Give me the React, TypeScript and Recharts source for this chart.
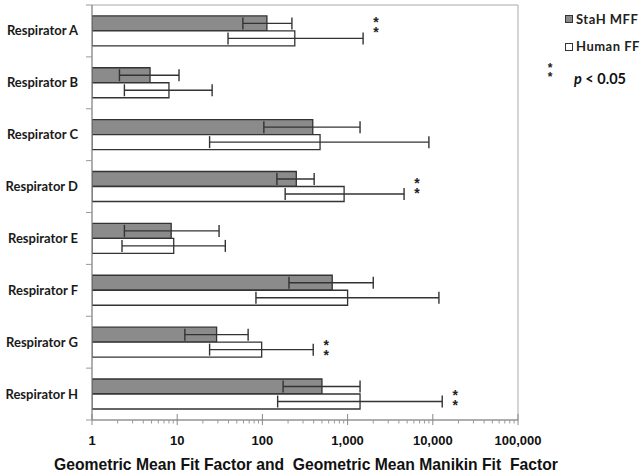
import React from 'react';
import { BarChart, Bar, XAxis, YAxis, ErrorBar, ReferenceArea, ReferenceDot } from 'recharts';

const respirators = ['Respirator A', 'Respirator B', 'Respirator C', 'Respirator D', 'Respirator E', 'Respirator F', 'Respirator G', 'Respirator H'];
const stahMff = [113, 4.8, 390, 250, 8.5, 660, 29, 500];
const stahLow = [59, 2.1, 104, 148, 2.4, 205, 12.3, 175];
const stahHigh = [222, 10.5, 1400, 405, 31, 2000, 68, 1400];
const humanFf = [240, 8.0, 475, 910, 9.1, 1000, 98, 1400];
const humanLow = [39.5, 2.4, 24, 185, 2.25, 84, 24, 151];
const humanHigh = [1520, 25.7, 9000, 4600, 36.7, 11800, 395, 12900];
const significant = [true, false, false, true, false, false, true, true];
const majorTicks = [1, 10, 100, 1000, 10000, 100000];
const minorSteps = [2, 3, 4, 5, 6, 7, 8, 9];

// styling: vertical offset (px) of the asterisk pair relative to band centre
const asteriskShift = [-9, 0, 0, -4, 0, 0, 3, 1];

const data = respirators.map((name, i) => ({
  name,
  stah: stahMff[i],
  stahErr: [stahMff[i] - stahLow[i], stahHigh[i] - stahMff[i]],
  human: humanFf[i],
  humanErr: [humanFf[i] - humanLow[i], humanHigh[i] - humanFf[i]],
}));

const allTicks: number[] = [];
majorTicks.forEach((t, k) => {
  allTicks.push(t);
  if (k < majorTicks.length - 1) minorSteps.forEach((s) => allTicks.push(t * s));
});

const W = 641;
const H = 476;
const PLOT_TOP = 5;
const PLOT_BOTTOM = 420;
const BAND = (PLOT_BOTTOM - PLOT_TOP) / respirators.length;

const XTick = (props: any) => {
  const { x, y, payload } = props;
  const v = payload.value;
  const major = Math.abs(Math.log10(v) - Math.round(Math.log10(v))) < 1e-9;
  return (
    <g>
      {major ? (
        <line x1={x} x2={x} y1={y - 6} y2={y + 5} stroke="#888" strokeWidth={1} />
      ) : (
        <line x1={x} x2={x} y1={y} y2={y + 3.5} stroke="#999" strokeWidth={1} />
      )}
      {major && (
        <text x={x} y={y + 25} textAnchor="middle" fontFamily="'Liberation Sans', Arial, sans-serif" fontWeight="bold" fontSize={13} fill="#111">
          {v.toLocaleString('en-US')}
        </text>
      )}
    </g>
  );
};

const YTick = (props: any) => {
  const { x, y, payload, index } = props;
  return (
    <g>
      {index === 0 && <line x1={x - 6} x2={x} y1={y - BAND / 2} y2={y - BAND / 2} stroke="#999" />}
      <line x1={x - 6} x2={x} y1={y + BAND / 2} y2={y + BAND / 2} stroke="#999" />
      <text x={x - 14} y={y} dy={4.5} textAnchor="end" fontFamily="Lato, 'Open Sans', sans-serif" fontWeight="bold" fontSize={13} fill="#1a1a1a">
        {payload.value}
      </text>
    </g>
  );
};

const STACKED = '*\n*';

const AsteriskPair = (shift: number) => (p: any) => {
  const cx = p.cx + 13;
  const cy = p.cy + shift;
  return (
    <foreignObject x={cx - 8} y={cy - 5} width={16} height={24}>
      <div
        style={{
          width: 16,
          textAlign: 'center',
          whiteSpace: 'pre',
          fontFamily: "'Liberation Sans', Arial, sans-serif",
          fontWeight: 'bold',
          fontSize: 14,
          lineHeight: '10px',
          color: '#222',
        }}
      >
        {STACKED}
      </div>
    </foreignObject>
  );
};

const legendText: React.CSSProperties = {
  position: 'absolute',
  fontFamily: 'Lato, sans-serif',
  fontWeight: 'bold',
  fontSize: 13,
  letterSpacing: 0.5,
  color: '#222',
  lineHeight: '16px',
  whiteSpace: 'pre',
};

export default function App() {
  return (
    <div style={{ position: 'absolute', left: 0, top: 0, width: W, height: H, background: '#fff' }}>
      <BarChart
        width={W}
        height={H}
        data={data}
        layout="vertical"
        margin={{ top: PLOT_TOP, right: W - 518, bottom: H - PLOT_BOTTOM - 30, left: 0 }}
        barCategoryGap="21%"
        barGap={0}
      >
        <ReferenceArea x1={1} x2={100000} fill="none" stroke="#aaa" strokeWidth={1} ifOverflow="visible" />
        <XAxis
          type="number"
          dataKey="stah"
          scale="log"
          domain={[1, 100000]}
          ticks={allTicks}
          interval={0}
          allowDataOverflow
          tick={<XTick />}
          tickLine={false}
          tickSize={0}
          tickMargin={0}
          height={30}
          axisLine={{ stroke: '#888' }}
        />
        <YAxis
          type="category"
          dataKey="name"
          width={92}
          tick={<YTick />}
          tickLine={false}
          tickSize={0}
          tickMargin={0}
          interval={0}
          axisLine={{ stroke: '#888' }}
        />
        <Bar dataKey="stah" fill="#8b8b8b" stroke="#333" strokeWidth={1.3} isAnimationActive={false}>
          <ErrorBar dataKey="stahErr" direction="x" width={6} stroke="#333" strokeWidth={1.4} />
        </Bar>
        <Bar dataKey="human" fill="#ffffff" stroke="#333" strokeWidth={1.3} isAnimationActive={false}>
          <ErrorBar dataKey="humanErr" direction="x" width={6} stroke="#333" strokeWidth={1.4} />
        </Bar>
        {respirators.map((name, i) =>
          significant[i] ? (
            <ReferenceDot key={name} x={humanHigh[i]} y={name} r={0} ifOverflow="visible" shape={AsteriskPair(asteriskShift[i])} />
          ) : null
        )}
      </BarChart>

      {/* legend */}
      <div style={{ position: 'absolute', left: 565, top: 15, width: 8, height: 8, background: '#8b8b8b', border: '1px solid #333', boxSizing: 'border-box' }} />
      <div style={{ ...legendText, left: 576, top: 11 }}>StaH MFF</div>
      <div style={{ position: 'absolute', left: 565, top: 43, width: 8, height: 8, background: '#fff', border: '1px solid #333', boxSizing: 'border-box' }} />
      <div style={{ ...legendText, left: 576, top: 38 }}>Human FF</div>
      <div style={{ position: 'absolute', left: 546, top: 64, width: 8, textAlign: 'center', whiteSpace: 'pre', fontFamily: "'Liberation Sans', Arial, sans-serif", fontWeight: 'bold', fontSize: 12, color: '#222', lineHeight: '9px' }}>{STACKED}</div>
      <div style={{ position: 'absolute', left: 574, top: 70, fontFamily: 'Lato, sans-serif', fontWeight: 'bold', fontSize: 14.5, color: '#111', lineHeight: '18px', whiteSpace: 'pre' }}>
        <i>p</i> &lt; 0.05
      </div>

      {/* axis title */}
      <div style={{ position: 'absolute', left: 54, top: 455, fontFamily: "'Liberation Sans', Arial, sans-serif", fontWeight: 'bold', fontSize: 15.7, color: '#111', lineHeight: '20px', whiteSpace: 'pre' }}>
        {'Geometric Mean Fit Factor and  Geometric Mean Manikin Fit  Factor'}
      </div>
    </div>
  );
}
